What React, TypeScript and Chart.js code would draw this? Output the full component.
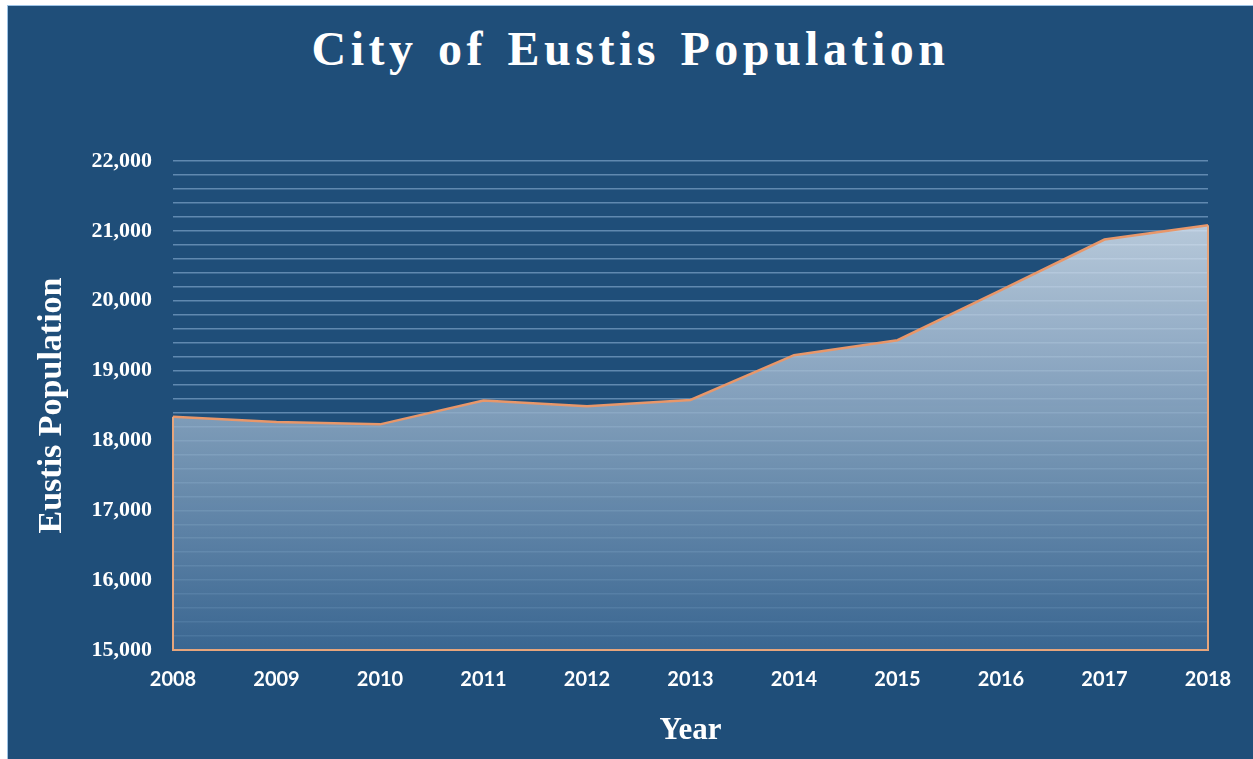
import React, { useEffect, useRef } from "react";
import { Chart, registerables } from "chart.js";

Chart.register(...registerables);

const years = ["2008", "2009", "2010", "2011", "2012", "2013", "2014", "2015", "2016", "2017", "2018"];
const population = [18340, 18265, 18230, 18570, 18490, 18580, 19220, 19435, 20150, 20876, 21080];
const yMin = 15000;
const yMax = 22000;
const yStep = 200;
const yLabelStep = 1000;

const chartTitle = "City of Eustis Population";
const yTitle = "Eustis Population";
const xTitle = "Year";

const BG = "#1f4e79";

const areaBorder = {
  id: "areaBorder",
  afterDatasetsDraw(chart: any) {
    const meta = chart.getDatasetMeta(0);
    const pts = meta.data;
    if (!pts || pts.length < 2) return;
    const yBase = chart.scales.y.getPixelForValue(yMin);
    const first = pts[0];
    const last = pts[pts.length - 1];
    const ctx = chart.ctx;
    ctx.save();
    ctx.lineWidth = 2;
    ctx.strokeStyle = "#e6a57c";
    ctx.beginPath();
    ctx.moveTo(first.x, first.y);
    ctx.lineTo(first.x, yBase);
    ctx.lineTo(last.x, yBase);
    ctx.lineTo(last.x, last.y);
    ctx.stroke();
    ctx.restore();
  },
};

export default function App() {
  const canvasRef = useRef<HTMLCanvasElement | null>(null);

  useEffect(() => {
    if (!canvasRef.current) return;
    const chart = new Chart(canvasRef.current, {
      type: "line",
      data: {
        labels: years,
        datasets: [
          {
            label: yTitle,
            data: population,
            borderColor: "#e8976a",
            borderWidth: 2.5,
            pointRadius: 0,
            tension: 0,
            fill: "start",
            backgroundColor: (c: any) => {
              const area = c.chart.chartArea;
              if (!area) return "rgba(150,175,205,0.8)";
              const g = c.chart.ctx.createLinearGradient(0, area.top, 0, area.bottom);
              g.addColorStop(0, "rgba(240,246,253,0.82)");
              g.addColorStop(1, "rgba(65,109,151,0.8)");
              return g;
            },
          },
        ],
      },
      options: {
        animation: false,
        responsive: false,
        maintainAspectRatio: false,
        layout: { padding: { top: 155, right: 45, left: 0, bottom: 0 } },
        plugins: {
          legend: { display: false },
          tooltip: { enabled: false },
          title: { display: false },
        },
        scales: {
          x: {
            type: "category",
            offset: false,
            grid: { display: false, drawTicks: false },
            border: { display: false },
            ticks: {
              color: "#ffffff",
              padding: 18,
              maxRotation: 0,
              autoSkip: false,
              font: { family: "Lato", weight: "bold", size: 20 },
            },
            title: {
              display: true,
              text: xTitle,
              color: "#ffffff",
              padding: { top: 0, bottom: 9 },
              font: { family: "'Liberation Serif', 'Times New Roman', serif", weight: "bold", size: 31 },
            },
            afterFit: (s: any) => {
              s.height = 109;
            },
          },
          y: {
            min: yMin,
            max: yMax,
            grid: {
              color: "rgba(150,185,222,0.55)",
              lineWidth: 1.5,
              drawTicks: false,
            },
            border: { display: false },
            ticks: {
              stepSize: yStep,
              autoSkip: false,
              color: "#ffffff",
              padding: 21,
              font: { family: "'Liberation Serif', 'Times New Roman', serif", weight: "bold", size: 22 },
              callback: (v: any) => (Number(v) % yLabelStep === 0 ? Number(v).toLocaleString("en-US") : ""),
            },
            title: {
              display: true,
              text: yTitle,
              color: "#ffffff",
              padding: { top: 24, bottom: 0 },
              font: { family: "'Liberation Serif', 'Times New Roman', serif", weight: "bold", size: 34 },
            },
            afterFit: (s: any) => {
              s.width = 165;
            },
          },
        },
      },
      plugins: [areaBorder],
    } as any);
    return () => chart.destroy();
  }, []);

  return (
    <div
      style={{
        position: "absolute",
        left: 7,
        top: 5,
        width: 1246,
        height: 754,
        boxSizing: "border-box",
        borderLeft: "1px solid #9dc3e6",
        borderTop: "1px solid #9dc3e6",
        background: BG,
      }}
    >
      <div
        style={{
          position: "absolute",
          left: 0,
          top: 19,
          width: "100%",
          textAlign: "center",
          color: "#ffffff",
          fontFamily: "'Liberation Serif', 'Times New Roman', serif",
          fontWeight: "bold",
          fontSize: 48,
          lineHeight: "48px",
          letterSpacing: "4.5px",
          wordSpacing: "4px",
        }}
      >
        {chartTitle}
      </div>
      <canvas
        ref={canvasRef}
        width={1245}
        height={753}
        style={{ position: "absolute", left: 0, top: 0, width: 1245, height: 753, display: "block" }}
      />
    </div>
  );
}
